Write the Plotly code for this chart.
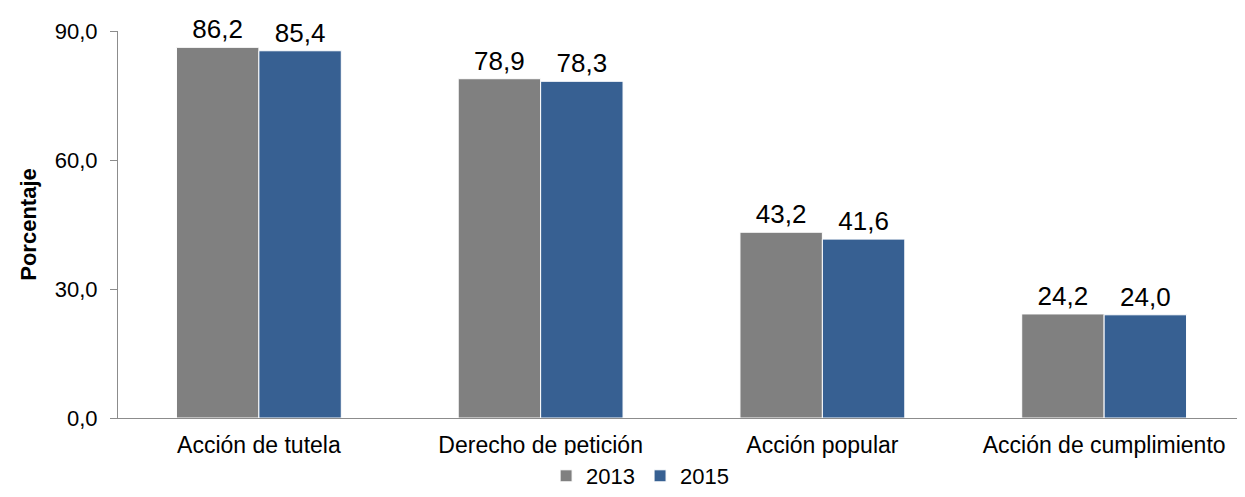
import plotly.graph_objects as go

categorias = ["Acción de tutela", "Derecho de petición", "Acción popular", "Acción de cumplimiento"]
valores_2013 = [86.2, 78.9, 43.2, 24.2]
valores_2015 = [85.4, 78.3, 41.6, 24.0]
y_ticks = [0, 30, 60, 90]

fuente = "Liberation Sans, Arial, sans-serif"


def etiquetas(vals):
    return [f"{v:.1f}".replace(".", ",") for v in vals]


fig = go.Figure()
fig.add_trace(go.Bar(
    name="2013", x=categorias, y=valores_2013,
    marker=dict(color="#808080", line=dict(color="white", width=1)),
    text=etiquetas(valores_2013), textposition="outside",
    textfont=dict(size=26, color="black", family=fuente),
    cliponaxis=False,
))
fig.add_trace(go.Bar(
    name="2015", x=categorias, y=valores_2015,
    marker=dict(color="#376092", line=dict(color="white", width=1)),
    text=etiquetas(valores_2015), textposition="outside",
    textfont=dict(size=26, color="black", family=fuente),
    cliponaxis=False,
))

# the page body adds an 8px margin, so the figure is a bit smaller
fig.update_layout(
    width=1237, height=489,
    margin=dict(l=110, r=0, t=23, b=79),
    paper_bgcolor="white", plot_bgcolor="white",
    barmode="group", bargap=0.415, bargroupgap=0,
    separators=",.",
    font=dict(family=fuente, size=22, color="black"),
    showlegend=True,
    legend=dict(orientation="h", xref="container", x=0.511, xanchor="center",
                yref="container", y=0.0, yanchor="bottom",
                font=dict(size=22), itemwidth=30, tracegroupgap=0),
    uniformtext=dict(minsize=10, mode="show"),
)
fig.update_yaxes(
    range=[0, 90], tickvals=y_ticks, tickformat=".1f",
    showline=True, linecolor="#8c8c8c", linewidth=1,
    ticks="outside", ticklen=7, tickcolor="#8c8c8c", ticklabelstandoff=8,
    showgrid=False, zeroline=False, automargin=False,
    tickfont=dict(size=22),
    title=dict(text="<b>Porcentaje</b>", font=dict(size=22), standoff=12),
)
fig.update_xaxes(
    showline=True, linecolor="#8c8c8c", linewidth=1,
    ticks="", showgrid=False, automargin=False, ticklabelstandoff=6,
    tickfont=dict(size=23),
)

fig.write_html("out.html")
